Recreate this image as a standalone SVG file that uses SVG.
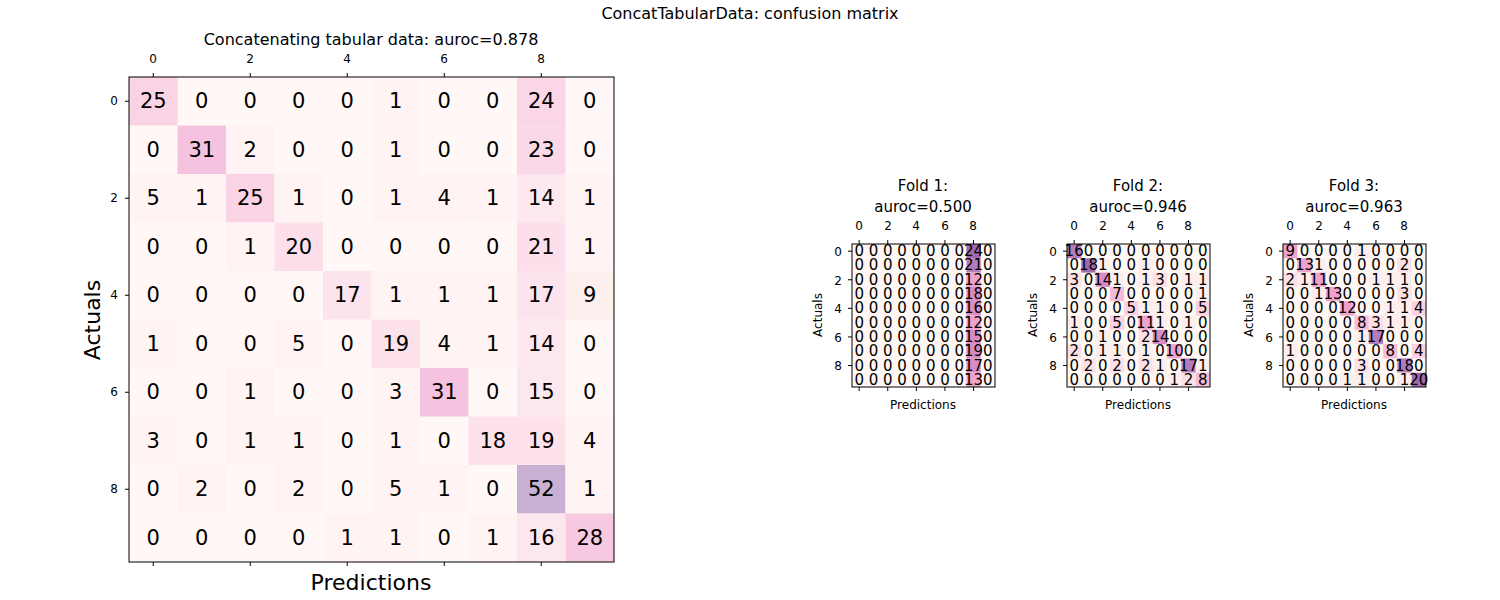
<svg xmlns="http://www.w3.org/2000/svg" width="1500" height="600" viewBox="0 0 1500 600">
<style>
text{font-family:"DejaVu Sans",sans-serif;fill:#000}
.m text{font-size:21px;text-anchor:middle;dominant-baseline:central}
.f text{font-size:15px;text-anchor:middle;dominant-baseline:central}
.t{font-size:12px;text-anchor:middle}
.fr{fill:none;stroke:#000;stroke-width:1}
.tk{stroke:#000;stroke-width:1}
.a{fill:#fdeeee}.b{fill:#fce0e8}.c{fill:#fad0e2}.d{fill:#f5bcd8}.e{fill:#eea2cc}.f1{fill:#d98bc4}.g{fill:#b47cbd}.h{fill:#9d6aad}
.l{fill:#fff3f3}
</style>
<rect width="1500" height="600" fill="#fff"/>
<text x="750" y="19" font-size="16" text-anchor="middle">ConcatTabularData: confusion matrix</text>

<g id="main">
<text x="371" y="45" font-size="16" text-anchor="middle">Concatenating tabular data: auroc=0.878</text>
<g class="t"><text x="153" y="63">0</text><text x="250" y="63">2</text><text x="347" y="63">4</text><text x="444" y="63">6</text><text x="541" y="63">8</text>
<text x="118" y="105" text-anchor="end">0</text><text x="118" y="202" text-anchor="end">2</text><text x="118" y="299" text-anchor="end">4</text><text x="118" y="396" text-anchor="end">6</text><text x="118" y="493" text-anchor="end">8</text></g>
<text transform="translate(100,320) rotate(-90)" font-size="22" text-anchor="middle">Actuals</text>
<text x="371" y="590" font-size="22" text-anchor="middle">Predictions</text>
<g class="m" transform="translate(129,77)">
<rect width="485" height="485" fill="#fff8f7"/>
<rect x="0" y="0" width="48.5" height="48.5" fill="#fad3e5"/><rect x="242.5" y="0" width="48.5" height="48.5" class="l"/><rect x="388" y="0" width="48.5" height="48.5" fill="#fbd6e6"/>
<rect x="48.5" y="48.5" width="48.5" height="48.5" fill="#f5c3df"/><rect x="97" y="48.5" width="48.5" height="48.5" class="l"/><rect x="242.5" y="48.5" width="48.5" height="48.5" class="l"/><rect x="388" y="48.5" width="48.5" height="48.5" fill="#fbd8e7"/>
<rect x="0" y="97" width="48.5" height="48.5" class="l"/><rect x="48.5" y="97" width="48.5" height="48.5" class="l"/><rect x="97" y="97" width="48.5" height="48.5" fill="#fad3e5"/><rect x="145.5" y="97" width="48.5" height="48.5" class="l"/><rect x="242.5" y="97" width="48.5" height="48.5" class="l"/><rect x="291" y="97" width="48.5" height="48.5" class="l"/><rect x="339.5" y="97" width="48.5" height="48.5" class="l"/><rect x="388" y="97" width="48.5" height="48.5" fill="#fde8ef"/><rect x="436.5" y="97" width="48.5" height="48.5" class="l"/>
<rect x="97" y="145.5" width="48.5" height="48.5" class="l"/><rect x="145.5" y="145.5" width="48.5" height="48.5" fill="#fcdfeb"/><rect x="388" y="145.5" width="48.5" height="48.5" fill="#fcdfeb"/><rect x="436.5" y="145.5" width="48.5" height="48.5" class="l"/>
<rect x="194" y="194" width="48.5" height="48.5" fill="#fde3ed"/><rect x="242.5" y="194" width="48.5" height="48.5" class="l"/><rect x="291" y="194" width="48.5" height="48.5" class="l"/><rect x="339.5" y="194" width="48.5" height="48.5" class="l"/><rect x="388" y="194" width="48.5" height="48.5" fill="#fde3ed"/><rect x="436.5" y="194" width="48.5" height="48.5" fill="#feefef"/>
<rect x="0" y="242.5" width="48.5" height="48.5" class="l"/><rect x="145.5" y="242.5" width="48.5" height="48.5" class="l"/><rect x="242.5" y="242.5" width="48.5" height="48.5" fill="#fde2ec"/><rect x="291" y="242.5" width="48.5" height="48.5" class="l"/><rect x="339.5" y="242.5" width="48.5" height="48.5" class="l"/><rect x="388" y="242.5" width="48.5" height="48.5" fill="#fde8ef"/>
<rect x="97" y="291" width="48.5" height="48.5" class="l"/><rect x="242.5" y="291" width="48.5" height="48.5" class="l"/><rect x="291" y="291" width="48.5" height="48.5" fill="#f5c3df"/><rect x="388" y="291" width="48.5" height="48.5" fill="#fde7ef"/>
<rect x="0" y="339.5" width="48.5" height="48.5" class="l"/><rect x="97" y="339.5" width="48.5" height="48.5" class="l"/><rect x="145.5" y="339.5" width="48.5" height="48.5" class="l"/><rect x="242.5" y="339.5" width="48.5" height="48.5" class="l"/><rect x="339.5" y="339.5" width="48.5" height="48.5" fill="#fde2ec"/><rect x="388" y="339.5" width="48.5" height="48.5" fill="#fde2ec"/><rect x="436.5" y="339.5" width="48.5" height="48.5" class="l"/>
<rect x="48.5" y="388" width="48.5" height="48.5" class="l"/><rect x="145.5" y="388" width="48.5" height="48.5" class="l"/><rect x="242.5" y="388" width="48.5" height="48.5" class="l"/><rect x="291" y="388" width="48.5" height="48.5" class="l"/><rect x="388" y="388" width="48.5" height="48.5" fill="#c8b0d2"/><rect x="436.5" y="388" width="48.5" height="48.5" class="l"/>
<rect x="194" y="436.5" width="48.5" height="48.5" class="l"/><rect x="242.5" y="436.5" width="48.5" height="48.5" class="l"/><rect x="339.5" y="436.5" width="48.5" height="48.5" class="l"/><rect x="388" y="436.5" width="48.5" height="48.5" fill="#fde7ef"/><rect x="436.5" y="436.5" width="48.5" height="48.5" fill="#f7c9e1"/>
<text x="24.25" y="24.25">25</text><text x="72.75" y="24.25">0</text><text x="121.25" y="24.25">0</text><text x="169.75" y="24.25">0</text><text x="218.25" y="24.25">0</text><text x="266.75" y="24.25">1</text><text x="315.25" y="24.25">0</text><text x="363.75" y="24.25">0</text><text x="412.25" y="24.25">24</text><text x="460.75" y="24.25">0</text>
<text x="24.25" y="72.75">0</text><text x="72.75" y="72.75">31</text><text x="121.25" y="72.75">2</text><text x="169.75" y="72.75">0</text><text x="218.25" y="72.75">0</text><text x="266.75" y="72.75">1</text><text x="315.25" y="72.75">0</text><text x="363.75" y="72.75">0</text><text x="412.25" y="72.75">23</text><text x="460.75" y="72.75">0</text>
<text x="24.25" y="121.25">5</text><text x="72.75" y="121.25">1</text><text x="121.25" y="121.25">25</text><text x="169.75" y="121.25">1</text><text x="218.25" y="121.25">0</text><text x="266.75" y="121.25">1</text><text x="315.25" y="121.25">4</text><text x="363.75" y="121.25">1</text><text x="412.25" y="121.25">14</text><text x="460.75" y="121.25">1</text>
<text x="24.25" y="169.75">0</text><text x="72.75" y="169.75">0</text><text x="121.25" y="169.75">1</text><text x="169.75" y="169.75">20</text><text x="218.25" y="169.75">0</text><text x="266.75" y="169.75">0</text><text x="315.25" y="169.75">0</text><text x="363.75" y="169.75">0</text><text x="412.25" y="169.75">21</text><text x="460.75" y="169.75">1</text>
<text x="24.25" y="218.25">0</text><text x="72.75" y="218.25">0</text><text x="121.25" y="218.25">0</text><text x="169.75" y="218.25">0</text><text x="218.25" y="218.25">17</text><text x="266.75" y="218.25">1</text><text x="315.25" y="218.25">1</text><text x="363.75" y="218.25">1</text><text x="412.25" y="218.25">17</text><text x="460.75" y="218.25">9</text>
<text x="24.25" y="266.75">1</text><text x="72.75" y="266.75">0</text><text x="121.25" y="266.75">0</text><text x="169.75" y="266.75">5</text><text x="218.25" y="266.75">0</text><text x="266.75" y="266.75">19</text><text x="315.25" y="266.75">4</text><text x="363.75" y="266.75">1</text><text x="412.25" y="266.75">14</text><text x="460.75" y="266.75">0</text>
<text x="24.25" y="315.25">0</text><text x="72.75" y="315.25">0</text><text x="121.25" y="315.25">1</text><text x="169.75" y="315.25">0</text><text x="218.25" y="315.25">0</text><text x="266.75" y="315.25">3</text><text x="315.25" y="315.25">31</text><text x="363.75" y="315.25">0</text><text x="412.25" y="315.25">15</text><text x="460.75" y="315.25">0</text>
<text x="24.25" y="363.75">3</text><text x="72.75" y="363.75">0</text><text x="121.25" y="363.75">1</text><text x="169.75" y="363.75">1</text><text x="218.25" y="363.75">0</text><text x="266.75" y="363.75">1</text><text x="315.25" y="363.75">0</text><text x="363.75" y="363.75">18</text><text x="412.25" y="363.75">19</text><text x="460.75" y="363.75">4</text>
<text x="24.25" y="412.25">0</text><text x="72.75" y="412.25">2</text><text x="121.25" y="412.25">0</text><text x="169.75" y="412.25">2</text><text x="218.25" y="412.25">0</text><text x="266.75" y="412.25">5</text><text x="315.25" y="412.25">1</text><text x="363.75" y="412.25">0</text><text x="412.25" y="412.25">52</text><text x="460.75" y="412.25">1</text>
<text x="24.25" y="460.75">0</text><text x="72.75" y="460.75">0</text><text x="121.25" y="460.75">0</text><text x="169.75" y="460.75">0</text><text x="218.25" y="460.75">1</text><text x="266.75" y="460.75">1</text><text x="315.25" y="460.75">0</text><text x="363.75" y="460.75">1</text><text x="412.25" y="460.75">16</text><text x="460.75" y="460.75">28</text>
<rect class="fr" width="485" height="485"/>
<path class="tk" d="M24.25 0v-4M121.25 0v-4M218.25 0v-4M315.25 0v-4M412.25 0v-4M24.25 485v4M121.25 485v4M218.25 485v4M315.25 485v4M412.25 485v4M0 24.25h-4M0 121.25h-4M0 218.25h-4M0 315.25h-4M0 412.25h-4"/>
</g>
</g>

<g id="fold1">
<text x="923" y="191" font-size="15" text-anchor="middle">Fold 1:</text>
<text x="923" y="212" font-size="15" text-anchor="middle">auroc=0.500</text>
<g class="t"><text x="859" y="230">0</text><text x="888" y="230">2</text><text x="916" y="230">4</text><text x="945" y="230">6</text><text x="973" y="230">8</text>
<text x="842" y="256" text-anchor="end">0</text><text x="842" y="285" text-anchor="end">2</text><text x="842" y="313" text-anchor="end">4</text><text x="842" y="342" text-anchor="end">6</text><text x="842" y="370" text-anchor="end">8</text></g>
<text transform="translate(822,315) rotate(-90)" font-size="12" text-anchor="middle">Actuals</text>
<text x="923" y="409" font-size="12" text-anchor="middle">Predictions</text>
<g class="f" transform="translate(852,244)">
<rect width="143" height="143" fill="#fff7f3"/>
<rect x="114.4" y="0" width="14.3" height="14.3" class="h"/><rect x="114.4" y="14.3" width="14.3" height="14.3" class="g"/><rect x="114.4" y="28.6" width="14.3" height="14.3" class="e"/><rect x="114.4" y="42.9" width="14.3" height="14.3" class="f1"/><rect x="114.4" y="57.2" width="14.3" height="14.3" class="f1"/><rect x="114.4" y="71.5" width="14.3" height="14.3" class="e"/><rect x="114.4" y="85.8" width="14.3" height="14.3" class="f1"/><rect x="114.4" y="100.1" width="14.3" height="14.3" class="f1"/><rect x="114.4" y="114.4" width="14.3" height="14.3" class="f1"/><rect x="114.4" y="128.7" width="14.3" height="14.3" class="e"/>
<text x="7.15" y="7.15">0</text><text x="21.45" y="7.15">0</text><text x="35.75" y="7.15">0</text><text x="50.05" y="7.15">0</text><text x="64.35" y="7.15">0</text><text x="78.65" y="7.15">0</text><text x="92.95" y="7.15">0</text><text x="107.25" y="7.15">0</text><text x="121.55" y="7.15">24</text><text x="135.85" y="7.15">0</text>
<text x="7.15" y="21.45">0</text><text x="21.45" y="21.45">0</text><text x="35.75" y="21.45">0</text><text x="50.05" y="21.45">0</text><text x="64.35" y="21.45">0</text><text x="78.65" y="21.45">0</text><text x="92.95" y="21.45">0</text><text x="107.25" y="21.45">0</text><text x="121.55" y="21.45">21</text><text x="135.85" y="21.45">0</text>
<text x="7.15" y="35.75">0</text><text x="21.45" y="35.75">0</text><text x="35.75" y="35.75">0</text><text x="50.05" y="35.75">0</text><text x="64.35" y="35.75">0</text><text x="78.65" y="35.75">0</text><text x="92.95" y="35.75">0</text><text x="107.25" y="35.75">0</text><text x="121.55" y="35.75">12</text><text x="135.85" y="35.75">0</text>
<text x="7.15" y="50.05">0</text><text x="21.45" y="50.05">0</text><text x="35.75" y="50.05">0</text><text x="50.05" y="50.05">0</text><text x="64.35" y="50.05">0</text><text x="78.65" y="50.05">0</text><text x="92.95" y="50.05">0</text><text x="107.25" y="50.05">0</text><text x="121.55" y="50.05">18</text><text x="135.85" y="50.05">0</text>
<text x="7.15" y="64.35">0</text><text x="21.45" y="64.35">0</text><text x="35.75" y="64.35">0</text><text x="50.05" y="64.35">0</text><text x="64.35" y="64.35">0</text><text x="78.65" y="64.35">0</text><text x="92.95" y="64.35">0</text><text x="107.25" y="64.35">0</text><text x="121.55" y="64.35">16</text><text x="135.85" y="64.35">0</text>
<text x="7.15" y="78.65">0</text><text x="21.45" y="78.65">0</text><text x="35.75" y="78.65">0</text><text x="50.05" y="78.65">0</text><text x="64.35" y="78.65">0</text><text x="78.65" y="78.65">0</text><text x="92.95" y="78.65">0</text><text x="107.25" y="78.65">0</text><text x="121.55" y="78.65">12</text><text x="135.85" y="78.65">0</text>
<text x="7.15" y="92.95">0</text><text x="21.45" y="92.95">0</text><text x="35.75" y="92.95">0</text><text x="50.05" y="92.95">0</text><text x="64.35" y="92.95">0</text><text x="78.65" y="92.95">0</text><text x="92.95" y="92.95">0</text><text x="107.25" y="92.95">0</text><text x="121.55" y="92.95">15</text><text x="135.85" y="92.95">0</text>
<text x="7.15" y="107.25">0</text><text x="21.45" y="107.25">0</text><text x="35.75" y="107.25">0</text><text x="50.05" y="107.25">0</text><text x="64.35" y="107.25">0</text><text x="78.65" y="107.25">0</text><text x="92.95" y="107.25">0</text><text x="107.25" y="107.25">0</text><text x="121.55" y="107.25">19</text><text x="135.85" y="107.25">0</text>
<text x="7.15" y="121.55">0</text><text x="21.45" y="121.55">0</text><text x="35.75" y="121.55">0</text><text x="50.05" y="121.55">0</text><text x="64.35" y="121.55">0</text><text x="78.65" y="121.55">0</text><text x="92.95" y="121.55">0</text><text x="107.25" y="121.55">0</text><text x="121.55" y="121.55">17</text><text x="135.85" y="121.55">0</text>
<text x="7.15" y="135.85">0</text><text x="21.45" y="135.85">0</text><text x="35.75" y="135.85">0</text><text x="50.05" y="135.85">0</text><text x="64.35" y="135.85">0</text><text x="78.65" y="135.85">0</text><text x="92.95" y="135.85">0</text><text x="107.25" y="135.85">0</text><text x="121.55" y="135.85">13</text><text x="135.85" y="135.85">0</text>
<rect class="fr" width="143" height="143"/>
<path class="tk" d="M7.15 0v-4M35.75 0v-4M64.35 0v-4M92.95 0v-4M121.55 0v-4M7.15 143v4M35.75 143v4M64.35 143v4M92.95 143v4M121.55 143v4M0 7.15h-4M0 35.75h-4M0 64.35h-4M0 92.95h-4M0 121.55h-4"/>
</g>
</g>

<g id="fold2">
<text x="1138" y="191" font-size="15" text-anchor="middle">Fold 2:</text>
<text x="1138" y="212" font-size="15" text-anchor="middle">auroc=0.946</text>
<g class="t"><text x="1074" y="230">0</text><text x="1103" y="230">2</text><text x="1131" y="230">4</text><text x="1160" y="230">6</text><text x="1188" y="230">8</text>
<text x="1057" y="256" text-anchor="end">0</text><text x="1057" y="285" text-anchor="end">2</text><text x="1057" y="313" text-anchor="end">4</text><text x="1057" y="342" text-anchor="end">6</text><text x="1057" y="370" text-anchor="end">8</text></g>
<text transform="translate(1037,315) rotate(-90)" font-size="12" text-anchor="middle">Actuals</text>
<text x="1138" y="409" font-size="12" text-anchor="middle">Predictions</text>
<g class="f" transform="translate(1067,244)">
<rect width="143" height="143" fill="#fff7f3"/>
<rect x="0" y="0" width="14.3" height="14.3" class="g"/>
<rect x="14.3" y="14.3" width="14.3" height="14.3" class="h"/><rect x="28.6" y="14.3" width="14.3" height="14.3" class="a"/><rect x="71.5" y="14.3" width="14.3" height="14.3" class="a"/>
<rect x="0" y="28.6" width="14.3" height="14.3" class="b"/><rect x="28.6" y="28.6" width="14.3" height="14.3" class="f1"/><rect x="42.9" y="28.6" width="14.3" height="14.3" class="a"/><rect x="71.5" y="28.6" width="14.3" height="14.3" class="a"/><rect x="85.8" y="28.6" width="14.3" height="14.3" class="b"/><rect x="114.4" y="28.6" width="14.3" height="14.3" class="a"/><rect x="128.7" y="28.6" width="14.3" height="14.3" class="a"/>
<rect x="42.9" y="42.9" width="14.3" height="14.3" class="d"/><rect x="128.7" y="42.9" width="14.3" height="14.3" class="a"/>
<rect x="57.2" y="57.2" width="14.3" height="14.3" class="c"/><rect x="71.5" y="57.2" width="14.3" height="14.3" class="a"/><rect x="85.8" y="57.2" width="14.3" height="14.3" class="a"/><rect x="128.7" y="57.2" width="14.3" height="14.3" class="c"/>
<rect x="0" y="71.5" width="14.3" height="14.3" class="a"/><rect x="42.9" y="71.5" width="14.3" height="14.3" class="c"/><rect x="71.5" y="71.5" width="14.3" height="14.3" class="e"/><rect x="85.8" y="71.5" width="14.3" height="14.3" class="a"/><rect x="114.4" y="71.5" width="14.3" height="14.3" class="a"/>
<rect x="28.6" y="85.8" width="14.3" height="14.3" class="a"/><rect x="71.5" y="85.8" width="14.3" height="14.3" class="b"/><rect x="85.8" y="85.8" width="14.3" height="14.3" class="f1"/>
<rect x="0" y="100.1" width="14.3" height="14.3" class="b"/><rect x="28.6" y="100.1" width="14.3" height="14.3" class="a"/><rect x="42.9" y="100.1" width="14.3" height="14.3" class="a"/><rect x="71.5" y="100.1" width="14.3" height="14.3" class="a"/><rect x="100.1" y="100.1" width="14.3" height="14.3" class="e"/>
<rect x="14.3" y="114.4" width="14.3" height="14.3" class="b"/><rect x="42.9" y="114.4" width="14.3" height="14.3" class="b"/><rect x="71.5" y="114.4" width="14.3" height="14.3" class="b"/><rect x="85.8" y="114.4" width="14.3" height="14.3" class="a"/><rect x="114.4" y="114.4" width="14.3" height="14.3" class="g"/><rect x="128.7" y="114.4" width="14.3" height="14.3" class="a"/>
<rect x="100.1" y="128.7" width="14.3" height="14.3" class="a"/><rect x="114.4" y="128.7" width="14.3" height="14.3" class="b"/><rect x="128.7" y="128.7" width="14.3" height="14.3" class="d"/>
<text x="7.15" y="7.15">16</text><text x="21.45" y="7.15">0</text><text x="35.75" y="7.15">0</text><text x="50.05" y="7.15">0</text><text x="64.35" y="7.15">0</text><text x="78.65" y="7.15">0</text><text x="92.95" y="7.15">0</text><text x="107.25" y="7.15">0</text><text x="121.55" y="7.15">0</text><text x="135.85" y="7.15">0</text>
<text x="7.15" y="21.45">0</text><text x="21.45" y="21.45">18</text><text x="35.75" y="21.45">1</text><text x="50.05" y="21.45">0</text><text x="64.35" y="21.45">0</text><text x="78.65" y="21.45">1</text><text x="92.95" y="21.45">0</text><text x="107.25" y="21.45">0</text><text x="121.55" y="21.45">0</text><text x="135.85" y="21.45">0</text>
<text x="7.15" y="35.75">3</text><text x="21.45" y="35.75">0</text><text x="35.75" y="35.75">14</text><text x="50.05" y="35.75">1</text><text x="64.35" y="35.75">0</text><text x="78.65" y="35.75">1</text><text x="92.95" y="35.75">3</text><text x="107.25" y="35.75">0</text><text x="121.55" y="35.75">1</text><text x="135.85" y="35.75">1</text>
<text x="7.15" y="50.05">0</text><text x="21.45" y="50.05">0</text><text x="35.75" y="50.05">0</text><text x="50.05" y="50.05">7</text><text x="64.35" y="50.05">0</text><text x="78.65" y="50.05">0</text><text x="92.95" y="50.05">0</text><text x="107.25" y="50.05">0</text><text x="121.55" y="50.05">0</text><text x="135.85" y="50.05">1</text>
<text x="7.15" y="64.35">0</text><text x="21.45" y="64.35">0</text><text x="35.75" y="64.35">0</text><text x="50.05" y="64.35">0</text><text x="64.35" y="64.35">5</text><text x="78.65" y="64.35">1</text><text x="92.95" y="64.35">1</text><text x="107.25" y="64.35">0</text><text x="121.55" y="64.35">0</text><text x="135.85" y="64.35">5</text>
<text x="7.15" y="78.65">1</text><text x="21.45" y="78.65">0</text><text x="35.75" y="78.65">0</text><text x="50.05" y="78.65">5</text><text x="64.35" y="78.65">0</text><text x="78.65" y="78.65">11</text><text x="92.95" y="78.65">1</text><text x="107.25" y="78.65">0</text><text x="121.55" y="78.65">1</text><text x="135.85" y="78.65">0</text>
<text x="7.15" y="92.95">0</text><text x="21.45" y="92.95">0</text><text x="35.75" y="92.95">1</text><text x="50.05" y="92.95">0</text><text x="64.35" y="92.95">0</text><text x="78.65" y="92.95">2</text><text x="92.95" y="92.95">14</text><text x="107.25" y="92.95">0</text><text x="121.55" y="92.95">0</text><text x="135.85" y="92.95">0</text>
<text x="7.15" y="107.25">2</text><text x="21.45" y="107.25">0</text><text x="35.75" y="107.25">1</text><text x="50.05" y="107.25">1</text><text x="64.35" y="107.25">0</text><text x="78.65" y="107.25">1</text><text x="92.95" y="107.25">0</text><text x="107.25" y="107.25">10</text><text x="121.55" y="107.25">0</text><text x="135.85" y="107.25">0</text>
<text x="7.15" y="121.55">0</text><text x="21.45" y="121.55">2</text><text x="35.75" y="121.55">0</text><text x="50.05" y="121.55">2</text><text x="64.35" y="121.55">0</text><text x="78.65" y="121.55">2</text><text x="92.95" y="121.55">1</text><text x="107.25" y="121.55">0</text><text x="121.55" y="121.55">17</text><text x="135.85" y="121.55">1</text>
<text x="7.15" y="135.85">0</text><text x="21.45" y="135.85">0</text><text x="35.75" y="135.85">0</text><text x="50.05" y="135.85">0</text><text x="64.35" y="135.85">0</text><text x="78.65" y="135.85">0</text><text x="92.95" y="135.85">0</text><text x="107.25" y="135.85">1</text><text x="121.55" y="135.85">2</text><text x="135.85" y="135.85">8</text>
<rect class="fr" width="143" height="143"/>
<path class="tk" d="M7.15 0v-4M35.75 0v-4M64.35 0v-4M92.95 0v-4M121.55 0v-4M7.15 143v4M35.75 143v4M64.35 143v4M92.95 143v4M121.55 143v4M0 7.15h-4M0 35.75h-4M0 64.35h-4M0 92.95h-4M0 121.55h-4"/>
</g>
</g>

<g id="fold3">
<text x="1354" y="191" font-size="15" text-anchor="middle">Fold 3:</text>
<text x="1354" y="212" font-size="15" text-anchor="middle">auroc=0.963</text>
<g class="t"><text x="1290" y="230">0</text><text x="1319" y="230">2</text><text x="1347" y="230">4</text><text x="1376" y="230">6</text><text x="1404" y="230">8</text>
<text x="1273" y="256" text-anchor="end">0</text><text x="1273" y="285" text-anchor="end">2</text><text x="1273" y="313" text-anchor="end">4</text><text x="1273" y="342" text-anchor="end">6</text><text x="1273" y="370" text-anchor="end">8</text></g>
<text transform="translate(1253,315) rotate(-90)" font-size="12" text-anchor="middle">Actuals</text>
<text x="1354" y="409" font-size="12" text-anchor="middle">Predictions</text>
<g class="f" transform="translate(1283,244)">
<rect width="143" height="143" fill="#fff7f3"/>
<rect x="0" y="0" width="14.3" height="14.3" class="e"/><rect x="71.5" y="0" width="14.3" height="14.3" class="a"/>
<rect x="14.3" y="14.3" width="14.3" height="14.3" class="e"/><rect x="28.6" y="14.3" width="14.3" height="14.3" class="a"/><rect x="114.4" y="14.3" width="14.3" height="14.3" class="b"/>
<rect x="0" y="28.6" width="14.3" height="14.3" class="b"/><rect x="14.3" y="28.6" width="14.3" height="14.3" class="a"/><rect x="28.6" y="28.6" width="14.3" height="14.3" class="e"/><rect x="85.8" y="28.6" width="14.3" height="14.3" class="a"/><rect x="100.1" y="28.6" width="14.3" height="14.3" class="a"/><rect x="114.4" y="28.6" width="14.3" height="14.3" class="a"/>
<rect x="28.6" y="42.9" width="14.3" height="14.3" class="a"/><rect x="42.9" y="42.9" width="14.3" height="14.3" class="e"/><rect x="114.4" y="42.9" width="14.3" height="14.3" class="b"/>
<rect x="57.2" y="57.2" width="14.3" height="14.3" class="e"/><rect x="100.1" y="57.2" width="14.3" height="14.3" class="a"/><rect x="114.4" y="57.2" width="14.3" height="14.3" class="a"/><rect x="128.7" y="57.2" width="14.3" height="14.3" class="c"/>
<rect x="71.5" y="71.5" width="14.3" height="14.3" class="d"/><rect x="85.8" y="71.5" width="14.3" height="14.3" class="b"/><rect x="100.1" y="71.5" width="14.3" height="14.3" class="a"/><rect x="114.4" y="71.5" width="14.3" height="14.3" class="a"/>
<rect x="71.5" y="85.8" width="14.3" height="14.3" class="a"/><rect x="85.8" y="85.8" width="14.3" height="14.3" class="g"/>
<rect x="0" y="100.1" width="14.3" height="14.3" class="a"/><rect x="100.1" y="100.1" width="14.3" height="14.3" class="d"/><rect x="128.7" y="100.1" width="14.3" height="14.3" class="c"/>
<rect x="71.5" y="114.4" width="14.3" height="14.3" class="b"/><rect x="114.4" y="114.4" width="14.3" height="14.3" class="g"/>
<rect x="57.2" y="128.7" width="14.3" height="14.3" class="a"/><rect x="71.5" y="128.7" width="14.3" height="14.3" class="a"/><rect x="114.4" y="128.7" width="14.3" height="14.3" class="a"/><rect x="128.7" y="128.7" width="14.3" height="14.3" class="h"/>
<text x="7.15" y="7.15">9</text><text x="21.45" y="7.15">0</text><text x="35.75" y="7.15">0</text><text x="50.05" y="7.15">0</text><text x="64.35" y="7.15">0</text><text x="78.65" y="7.15">1</text><text x="92.95" y="7.15">0</text><text x="107.25" y="7.15">0</text><text x="121.55" y="7.15">0</text><text x="135.85" y="7.15">0</text>
<text x="7.15" y="21.45">0</text><text x="21.45" y="21.45">13</text><text x="35.75" y="21.45">1</text><text x="50.05" y="21.45">0</text><text x="64.35" y="21.45">0</text><text x="78.65" y="21.45">0</text><text x="92.95" y="21.45">0</text><text x="107.25" y="21.45">0</text><text x="121.55" y="21.45">2</text><text x="135.85" y="21.45">0</text>
<text x="7.15" y="35.75">2</text><text x="21.45" y="35.75">1</text><text x="35.75" y="35.75">11</text><text x="50.05" y="35.75">0</text><text x="64.35" y="35.75">0</text><text x="78.65" y="35.75">0</text><text x="92.95" y="35.75">1</text><text x="107.25" y="35.75">1</text><text x="121.55" y="35.75">1</text><text x="135.85" y="35.75">0</text>
<text x="7.15" y="50.05">0</text><text x="21.45" y="50.05">0</text><text x="35.75" y="50.05">1</text><text x="50.05" y="50.05">13</text><text x="64.35" y="50.05">0</text><text x="78.65" y="50.05">0</text><text x="92.95" y="50.05">0</text><text x="107.25" y="50.05">0</text><text x="121.55" y="50.05">3</text><text x="135.85" y="50.05">0</text>
<text x="7.15" y="64.35">0</text><text x="21.45" y="64.35">0</text><text x="35.75" y="64.35">0</text><text x="50.05" y="64.35">0</text><text x="64.35" y="64.35">12</text><text x="78.65" y="64.35">0</text><text x="92.95" y="64.35">0</text><text x="107.25" y="64.35">1</text><text x="121.55" y="64.35">1</text><text x="135.85" y="64.35">4</text>
<text x="7.15" y="78.65">0</text><text x="21.45" y="78.65">0</text><text x="35.75" y="78.65">0</text><text x="50.05" y="78.65">0</text><text x="64.35" y="78.65">0</text><text x="78.65" y="78.65">8</text><text x="92.95" y="78.65">3</text><text x="107.25" y="78.65">1</text><text x="121.55" y="78.65">1</text><text x="135.85" y="78.65">0</text>
<text x="7.15" y="92.95">0</text><text x="21.45" y="92.95">0</text><text x="35.75" y="92.95">0</text><text x="50.05" y="92.95">0</text><text x="64.35" y="92.95">0</text><text x="78.65" y="92.95">1</text><text x="92.95" y="92.95">17</text><text x="107.25" y="92.95">0</text><text x="121.55" y="92.95">0</text><text x="135.85" y="92.95">0</text>
<text x="7.15" y="107.25">1</text><text x="21.45" y="107.25">0</text><text x="35.75" y="107.25">0</text><text x="50.05" y="107.25">0</text><text x="64.35" y="107.25">0</text><text x="78.65" y="107.25">0</text><text x="92.95" y="107.25">0</text><text x="107.25" y="107.25">8</text><text x="121.55" y="107.25">0</text><text x="135.85" y="107.25">4</text>
<text x="7.15" y="121.55">0</text><text x="21.45" y="121.55">0</text><text x="35.75" y="121.55">0</text><text x="50.05" y="121.55">0</text><text x="64.35" y="121.55">0</text><text x="78.65" y="121.55">3</text><text x="92.95" y="121.55">0</text><text x="107.25" y="121.55">0</text><text x="121.55" y="121.55">18</text><text x="135.85" y="121.55">0</text>
<text x="7.15" y="135.85">0</text><text x="21.45" y="135.85">0</text><text x="35.75" y="135.85">0</text><text x="50.05" y="135.85">0</text><text x="64.35" y="135.85">1</text><text x="78.65" y="135.85">1</text><text x="92.95" y="135.85">0</text><text x="107.25" y="135.85">0</text><text x="121.55" y="135.85">1</text><text x="135.85" y="135.85">20</text>
<rect class="fr" width="143" height="143"/>
<path class="tk" d="M7.15 0v-4M35.75 0v-4M64.35 0v-4M92.95 0v-4M121.55 0v-4M7.15 143v4M35.75 143v4M64.35 143v4M92.95 143v4M121.55 143v4M0 7.15h-4M0 35.75h-4M0 64.35h-4M0 92.95h-4M0 121.55h-4"/>
</g>
</g>
<g id="connectors"/>
</svg>
